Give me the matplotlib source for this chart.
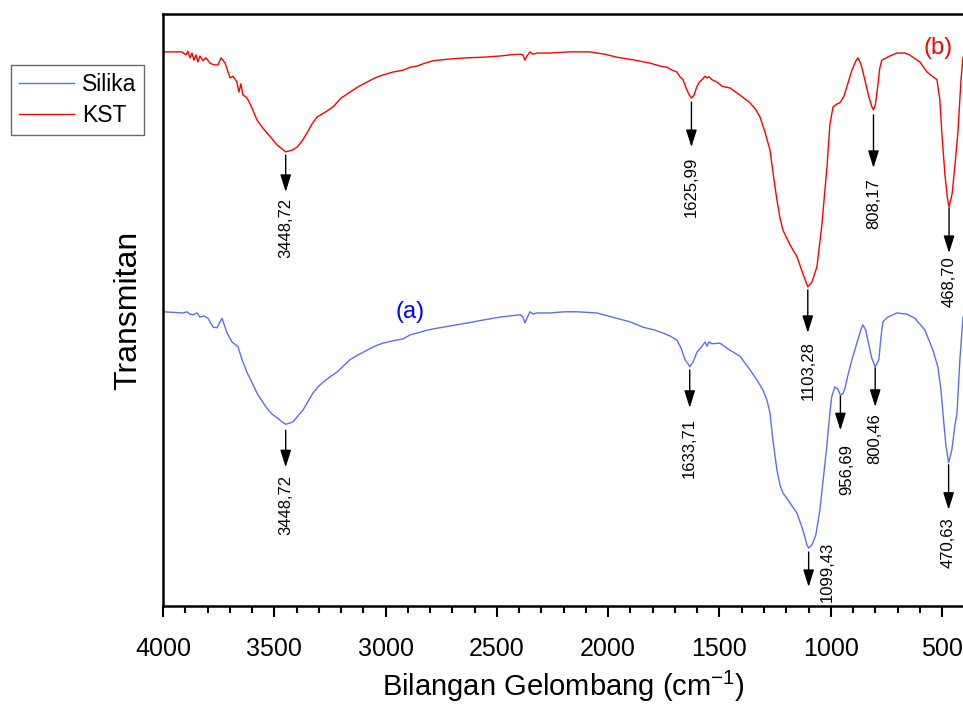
import numpy as np
import matplotlib
matplotlib.use("Agg")
import matplotlib.pyplot as plt
from matplotlib.transforms import offset_copy
from matplotlib.ticker import MultipleLocator

plt.rcParams['font.family'] = ['Liberation Sans', 'DejaVu Sans']
plt.rcParams['mathtext.fontset'] = 'custom'
plt.rcParams['mathtext.rm'] = 'Liberation Sans'

# ---- data: KST (red) ----
kst_wn = [4000, 3915, 3897, 3888, 3879, 3870, 3861, 3852, 3843, 3834, 3820, 3807, 3789, 3771, 3753,
          3739, 3721, 3699, 3686, 3668, 3659, 3650, 3641, 3627, 3618, 3600, 3578, 3555, 3533, 3510,
          3488, 3465, 3448.72, 3421, 3398, 3376, 3353, 3331, 3308, 3272, 3236, 3200, 3160, 3124, 3084,
          3048, 3012, 2967, 2922, 2890, 2859, 2823, 2787, 2711, 2634, 2563, 2486, 2441, 2396, 2383,
          2374, 2365, 2351, 2338, 2320, 2262, 2172, 2082, 2015, 1961, 1880, 1812, 1767, 1736, 1713,
          1691, 1678, 1664, 1650, 1638, 1625.99, 1614, 1603, 1590, 1576, 1565, 1556, 1547, 1534, 1511,
          1489, 1453, 1408, 1363, 1336, 1318, 1296, 1273, 1260, 1242, 1228, 1215, 1183, 1152, 1125,
          1103.28, 1085, 1062, 1040, 1017, 1004, 990, 972, 959, 941, 928, 905, 887, 878, 865,
          847, 829, 815, 808.17, 800, 790, 780, 771, 735, 703, 667, 647, 600, 568, 541, 523, 510,
          501, 487, 476, 468.70, 455, 440, 429, 415, 406]
kst_t = [93.6, 93.6, 93.1, 93.7, 92.6, 93.4, 92.2, 93.1, 91.9, 92.9, 92.1, 92.6, 91.7, 91.4, 91.4,
         92.6, 91.7, 89.2, 89.5, 88.5, 86.8, 88.2, 86.3, 86.0, 85.5, 84.1, 82.1, 80.9, 79.9, 78.9,
         77.9, 77.2, 76.7, 77.0, 77.5, 78.5, 79.9, 81.4, 82.6, 83.4, 84.3, 85.8, 86.8, 87.7, 88.5,
         89.2, 89.7, 90.2, 90.5, 91.0, 91.2, 91.7, 92.1, 92.4, 92.6, 92.7, 92.9, 93.1, 93.2, 93.1,
         92.2, 92.9, 93.6, 93.2, 93.4, 93.4, 93.6, 93.6, 93.2, 92.7, 92.2, 91.7, 91.2, 91.0, 90.5,
         90.2, 89.4, 88.9, 87.5, 86.5, 85.8, 86.3, 87.6, 88.5, 89.0, 89.5, 89.2, 89.4, 88.9, 88.5,
         87.8, 87.5, 86.3, 85.0, 83.8, 82.6, 80.1, 77.0, 73.3, 68.6, 65.5, 63.5, 61.0, 59.0, 56.1,
         53.9, 54.7, 57.3, 64.4, 74.2, 81.3, 84.3, 84.8, 85.0, 86.1, 87.7, 90.5, 92.1, 92.6, 91.6,
         88.9, 86.0, 84.3, 83.8, 84.6, 87.5, 90.8, 92.2, 92.9, 93.4, 93.4, 93.1, 91.9, 90.2, 89.4, 88.9, 85.5,
         79.9, 72.8, 68.9, 67.4, 69.6, 75.3, 79.9, 88.9, 92.7]

# ---- data: Silika (blue) ----
sil_wn = [4000, 3910, 3892, 3879, 3865, 3847, 3834, 3816, 3798, 3775, 3757, 3744, 3735, 3712, 3690,
          3663, 3645, 3623, 3600, 3578, 3555, 3533, 3510, 3488, 3465, 3448.72, 3430, 3416, 3394, 3371,
          3349, 3326, 3304, 3281, 3250, 3218, 3191, 3160, 3124, 3084, 3048, 3012, 2967, 2922, 2890,
          2859, 2823, 2787, 2711, 2634, 2563, 2486, 2441, 2396, 2383, 2374, 2365, 2351, 2338, 2320,
          2262, 2194, 2141, 2051, 1961, 1902, 1844, 1790, 1754, 1722, 1691, 1673, 1655, 1641, 1633.71,
          1619, 1601, 1578, 1565, 1556, 1547, 1534, 1498, 1453, 1408, 1363, 1332, 1305, 1287, 1273,
          1260, 1242, 1228, 1215, 1183, 1152, 1125, 1107, 1099.43, 1085, 1067, 1049, 1032, 1018, 1005,
          996, 982, 969, 956.69, 945, 936, 923, 905, 883, 865, 856, 843, 829, 816, 800.46,
          784, 775, 766, 744, 703, 658, 622, 577, 541, 519, 505, 496, 483, 470.63, 456,
          442, 433, 420, 406]
sil_t = [49.7, 49.5, 49.7, 49.3, 49.2, 49.5, 48.8, 49.0, 48.6, 47.1, 47.0, 48.0, 48.6, 46.1, 44.6,
         43.8, 41.6, 39.5, 37.7, 36.0, 34.6, 33.4, 32.4, 31.8, 31.1, 30.7, 30.9, 31.1, 32.1, 33.1,
         34.5, 36.0, 37.0, 37.8, 38.7, 39.5, 40.5, 41.6, 42.4, 43.2, 43.9, 44.4, 44.8, 45.1, 45.8,
         46.1, 46.5, 46.8, 47.3, 47.8, 48.3, 48.8, 49.0, 49.2, 48.8, 47.8, 48.6, 49.7, 49.3, 49.5,
         49.5, 49.7, 49.7, 49.5, 48.6, 48.0, 47.1, 46.6, 46.1, 45.6, 44.9, 43.6, 41.6, 40.9, 40.4,
         41.2, 42.9, 43.9, 44.6, 43.9, 44.6, 44.3, 44.4, 43.2, 42.2, 39.9, 38.2, 36.5, 34.8, 32.6,
         28.0, 23.0, 20.4, 19.1, 17.4, 15.7, 12.8, 10.3, 9.8, 10.3, 12.0, 16.2, 22.1, 26.9, 32.3,
         35.3, 37.0, 36.7, 35.6, 35.9, 36.8, 39.0, 41.6, 44.4, 46.6, 47.5, 46.6, 44.1, 41.9, 40.4,
         41.6, 45.3, 48.0, 48.8, 49.5, 49.3, 48.6, 46.6, 43.2, 40.4, 36.5, 32.6, 27.2, 24.2, 26.4,
         30.6, 32.6, 41.6, 48.8]

kst_peaks = [3448.72, 1625.99, 1103.28, 808.17, 468.70]
kst_labels = ["3448,72", "1625,99", "1103,28", "808,17", "468,70"]
sil_peaks = [3448.72, 1633.71, 1099.43, 956.69, 800.46, 470.63]
sil_labels = ["3448,72", "1633,71", "1099,43", "956,69", "800,46", "470,63"]

blue = '#5a70f2'
red = '#ff0000'

fig = plt.figure(figsize=(9.63, 7.04), dpi=100)
ax = fig.add_axes([163/963, 1-606/704, 800/963, 592/704])

ax.plot(sil_wn, sil_t, color=blue, lw=1.0, label='Silika')
ax.plot(kst_wn, kst_t, color=red, lw=1.0, label='KST')

ax.set_xlim(4000, 406)
ax.set_ylim(0, 100)
ax.xaxis.set_major_locator(MultipleLocator(500))
ax.xaxis.set_minor_locator(MultipleLocator(100))
ax.tick_params(axis='x', which='major', direction='out', length=8, width=1.5, labelsize=18, pad=14)
ax.tick_params(axis='x', which='minor', direction='out', length=5, width=1.5)
ax.tick_params(axis='y', left=False, labelleft=False)
for s in ['left', 'bottom', 'top']:
    ax.spines[s].set_linewidth(1.8)
ax.spines['right'].set_visible(False)

ax.set_xlabel('Bilangan Gelombang (cm$^{\\mathregular{-1}}$)', fontsize=21, labelpad=6)
ax.set_ylabel('Transmitan', fontsize=23, labelpad=14)

# annotation geometry in pixels: (gap from curve, arrow length, text gap, text dx, text dy override)
kst_geom = [(3, 37, 6, 0, None), (4, 45, 10, 0, None), (3, 43, 8, 0, None),
            (5, 53, 10, 0, None), (1, 45, 3, 0, None)]
sil_geom = [(6, 37, 8, 0, None), (3, 38, 10, 0, None), (4, 35, 0, 19, -6),
            (1, 34, 14, 6, None), (1, 39, 6, 0, None), (2, 45, 8, 0, None)]


def annotate(wn_arr, t_arr, peaks, labels, geom):
    for p, lab, (gap, L, tg, tdx, tdy) in zip(peaks, labels, geom):
        t = np.interp(p, wn_arr[::-1], t_arr[::-1])
        tail = offset_copy(ax.transData, fig=fig, x=0, y=-gap, units='dots')
        head = offset_copy(ax.transData, fig=fig, x=0, y=-(gap + L), units='dots')
        ax.annotate('', xy=(p, t), xycoords=head, xytext=(p, t), textcoords=tail,
                    arrowprops=dict(arrowstyle='-|>,head_length=0.7,head_width=0.22',
                                    color='black', lw=1.0,
                                    mutation_scale=15, shrinkA=0, shrinkB=0))
        ty = -(gap + L + tg) if tdy is None else -tdy
        ttr = offset_copy(ax.transData, fig=fig, x=tdx, y=ty, units='dots')
        ax.text(p, t, lab, transform=ttr, rotation=90, ha='center', va='top', fontsize=12)


annotate(np.array(kst_wn), np.array(kst_t), kst_peaks, kst_labels, kst_geom)
annotate(np.array(sil_wn), np.array(sil_t), sil_peaks, sil_labels, sil_geom)

ax.text(2890, 49.7, '(a)', color='#0000ff', fontsize=17, ha='center', va='center')
ax.text(519, 94.3, '(b)', color=red, fontsize=17, ha='center', va='center')

leg = fig.legend(loc='upper left', bbox_to_anchor=(11/963, 1-65/704), fontsize=16.5,
                 frameon=True, fancybox=False, edgecolor='#444444', handlelength=2.4,
                 handletextpad=0.35, borderpad=0.35, labelspacing=0.35, borderaxespad=0)
leg.get_frame().set_linewidth(1.0)

fig.savefig('out.png', dpi=100)
